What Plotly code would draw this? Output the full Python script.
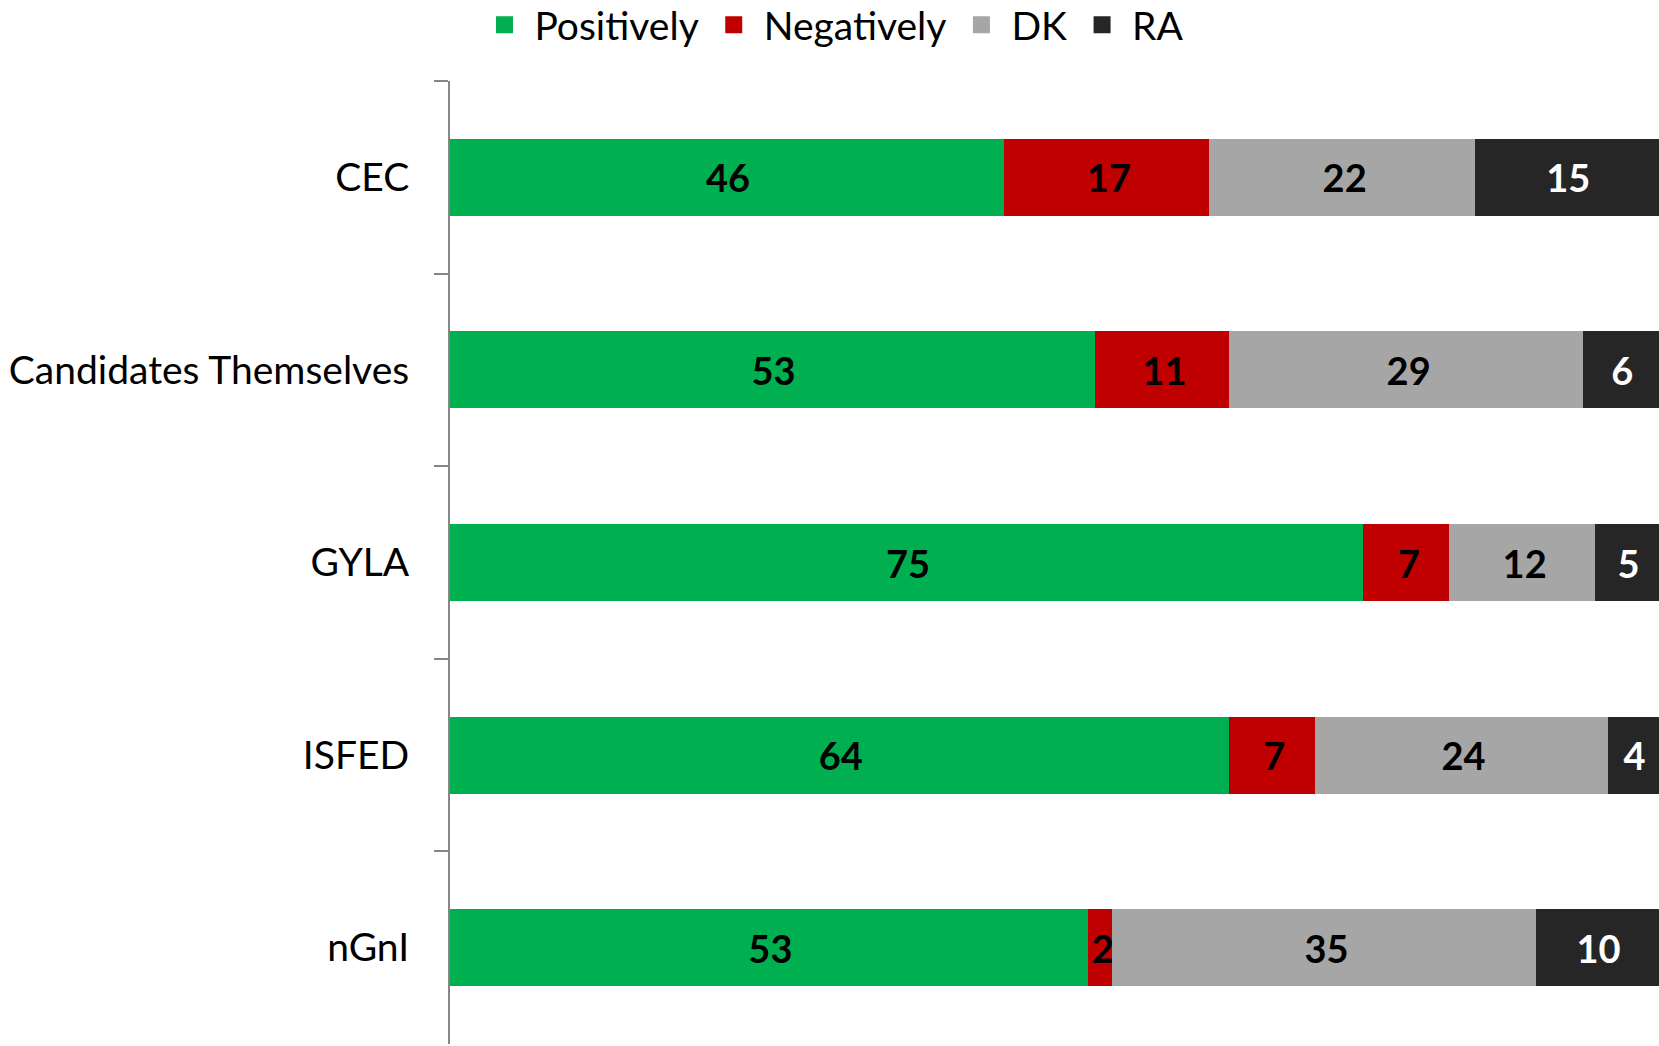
import plotly.graph_objects as go

categories = ["CEC", "Candidates Themselves", "GYLA", "ISFED", "nGnI"]
positively = [46, 53, 75, 64, 53]
negatively = [17, 11, 7, 7, 2]
dk = [22, 29, 12, 24, 35]
ra = [15, 6, 5, 4, 10]

series = [
    ("Positively", positively, "#00B050", "black"),
    ("Negatively", negatively, "#C00000", "black"),
    ("DK", dk, "#A6A6A6", "black"),
    ("RA", ra, "#262626", "white"),
]

FONT = "Lato"
W, H = 1659, 1046
T, B = 81, 2

fig = go.Figure()
for name, vals, color, tcolor in series:
    fig.add_trace(go.Bar(
        name=name, y=categories, x=vals, orientation="h",
        marker=dict(color=color, line=dict(width=5, color=color)),
        text=vals, texttemplate="%{text}", textposition="inside",
        insidetextanchor="middle", constraintext="none",
        textfont=dict(family=FONT, size=38, color=tcolor, weight="bold"),
    ))

plot_h = H - T - B
fig.update_layout(
    width=W, height=H,
    barmode="stack", barnorm="percent", bargap=0.626,
    margin=dict(l=450, r=0, t=T, b=B, autoexpand=False),
    plot_bgcolor="white", paper_bgcolor="white",
    font=dict(family=FONT, size=40, color="black"),
    legend=dict(orientation="h", xref="container", yref="paper",
                x=0.5015, xanchor="center", y=1 + (T - 25) / plot_h, yanchor="middle",
                itemwidth=50, font=dict(family=FONT, size=39), traceorder="normal",
                bgcolor="rgba(0,0,0,0)"),
    xaxis=dict(range=[0, 100], visible=False, fixedrange=True),
    yaxis=dict(autorange="reversed", showline=True, linecolor="#868686", linewidth=2,
               ticks="outside", tickson="boundaries", ticklen=14, tickwidth=2,
               tickcolor="#868686", ticklabelstandoff=31, showgrid=False,
               tickfont=dict(family=FONT, size=39, color="black")),
)

fig.write_html("out.html", config={"displayModeBar": False},
               post_script="document.body.style.margin='0';")
